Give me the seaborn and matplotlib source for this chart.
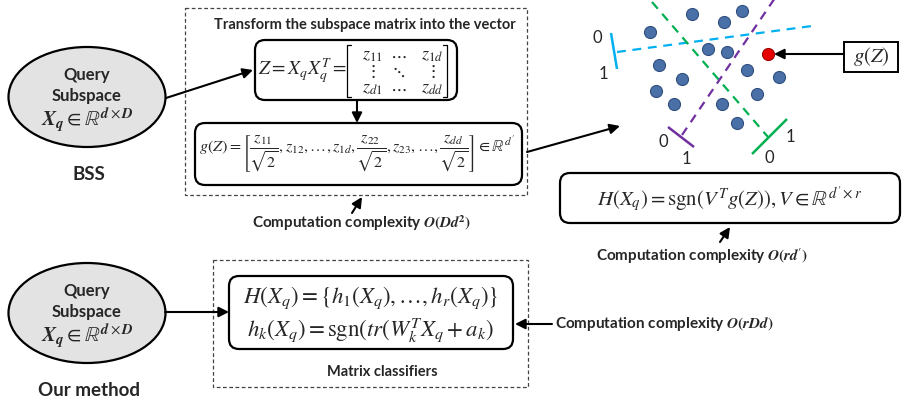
import matplotlib
matplotlib.use("Agg")
import matplotlib.pyplot as plt
import seaborn as sns
import pandas as pd
from matplotlib.patches import Ellipse, FancyBboxPatch, Rectangle

# -----------------------------------------------------------------------------
# DATA (pixel space of the 906x403 diagram)
# -----------------------------------------------------------------------------
dot_x = [692, 742, 724, 650, 708, 727, 659, 747, 779, 682, 656, 757, 674, 722, 737]
dot_y = [14, 11, 22, 32, 49, 52, 65, 70, 77, 79, 91, 94, 104, 104, 123]
query_x = [768]
query_y = [54]

# hyperplanes: dashed separator, solid normal tick, side labels
plane_names = ["cyan", "green", "purple"]
plane_colors = ["#00B0F0", "#00B050", "#7030A0"]
plane_dash_x = [(617, 812), (652, 768), (777, 682)]
plane_dash_y = [(52, 26), (2, 137), (-5, 135)]
plane_tick_x = [(611, 617), (752, 787), (668, 694)]
plane_tick_y = [(33, 69), (154, 119), (127, 147)]
plane_lab0 = [(597, 38), (769, 158), (663, 142)]
plane_lab1 = [(603, 74), (790, 137), (686, 159)]

TEXT_FONT = ["Lato", "DejaVu Sans"]

sns.set_theme(style="white")
plt.rcParams["font.family"] = TEXT_FONT
plt.rcParams["mathtext.fontset"] = "stix"

fig = plt.figure(figsize=(9.06, 4.03), dpi=100)
ax = fig.add_axes([0, 0, 1, 1])
ax.set_xlim(0, 906)
ax.set_ylim(403, 0)
ax.axis("off")

LW = 1.6


def arrow(x0, y0, x1, y1, lw=1.5):
    ax.annotate("", xy=(x1, y1), xytext=(x0, y0),
                arrowprops=dict(arrowstyle="-|>,head_length=0.5,head_width=0.25",
                                color="black", lw=lw, shrinkA=0, shrinkB=0))


def rbox(x0, y0, x1, y1, r=10):
    ax.add_patch(FancyBboxPatch((x0, y0), x1 - x0, y1 - y0,
                                boxstyle=f"round,pad=0,rounding_size={r}",
                                fc="white", ec="black", lw=LW))


def dbox(x0, y0, x1, y1):
    ax.add_patch(Rectangle((x0, y0), x1 - x0, y1 - y0, fill=False,
                           ec="#444444", lw=0.9, ls=(0, (3, 2))))


def query_ellipse(cx, cy, label):
    ax.add_patch(Ellipse((cx, cy), 157, 100, fc="#E3E3E3", ec="black", lw=LW))
    ax.text(cx, cy - 22, "Query", ha="center", va="center", fontsize=12, fontweight="bold")
    ax.text(cx, cy - 1, "Subspace", ha="center", va="center", fontsize=12, fontweight="bold")
    ax.text(cx, cy + 23, r"$\mathbfit{X}_{\mathbfit{q}}\in\mathbb{R}^{\mathbfit{d}\times\mathbfit{D}}$",
            ha="center", va="center", fontsize=15)
    ax.text(cx + 2, cy + 78, label, ha="center", va="center", fontsize=13.5, fontweight="bold")


# ---------------- top row: BSS ----------------
query_ellipse(87, 97, "BSS")
dbox(185, 8, 527, 195)
ax.text(365, 25, "Transform the subspace matrix into the vector", ha="center", va="center",
        fontsize=10.5, fontweight="bold")

rbox(255, 40, 457, 100)
ax.text(258, 71, r"$Z=X_qX_q^T=$", ha="left", va="center", fontsize=14)
# matrix entries
mat_cols = [372, 398, 432]
mat_rows = [56, 72, 89]
mat_cells = [[r"$z_{11}$", r"$\cdots$", r"$z_{1d}$"],
             [r"$\vdots$", r"$\ddots$", r"$\vdots$"],
             [r"$z_{d1}$", r"$\cdots$", r"$z_{dd}$"]]
for i, row in enumerate(mat_cells):
    for j, cell in enumerate(row):
        ax.text(mat_cols[j], mat_rows[i], cell, ha="center", va="center", fontsize=13)
ax.plot([351, 347, 347, 351], [45, 45, 97, 97], color="black", lw=0.9)
ax.plot([443, 447, 447, 443], [45, 45, 97, 97], color="black", lw=0.9)

arrow(357, 100, 357, 123)

rbox(195, 123, 522, 185)
ax.text(357, 154,
        r"$g(Z)=\left[\dfrac{z_{11}}{\sqrt{2}},z_{12},\ldots,z_{1d},\dfrac{z_{22}}{\sqrt{2}},"
        r"z_{23},\ldots,\dfrac{z_{dd}}{\sqrt{2}}\right]\in\mathbb{R}^{d^{\prime}}$",
        ha="center", va="center", fontsize=11.6)

arrow(352, 213, 362, 197)
ax.text(362, 223, r"Computation complexity $\mathbfit{O}\mathbf{(}\mathbfit{Dd}^{\mathbf{2}}\mathbf{)}$",
        ha="center", va="center", fontsize=11, fontweight="bold")

arrow(166, 98, 253, 70)
arrow(527, 152, 620, 126)

# ---------------- scatter of hashed points ----------------
for k in range(len(plane_names)):
    c = plane_colors[k]
    ax.plot(plane_dash_x[k], plane_dash_y[k], color=c, lw=1.6, ls=(0, (4, 3)))
    ax.plot(plane_tick_x[k], plane_tick_y[k], color=c, lw=1.8, solid_capstyle="butt")
    ax.text(*plane_lab0[k], "0", ha="center", va="center", fontsize=12)
    ax.text(*plane_lab1[k], "1", ha="center", va="center", fontsize=12)

dots = pd.DataFrame({"x": dot_x, "y": dot_y})
sns.scatterplot(data=dots, x="x", y="y", ax=ax, s=75, color="#4A70A8",
                edgecolor="#2F4F7F", linewidth=0.8, zorder=5)
qd = pd.DataFrame({"x": query_x, "y": query_y})
sns.scatterplot(data=qd, x="x", y="y", ax=ax, s=75, color="#E60000",
                edgecolor="#A00000", linewidth=0.8, zorder=5)
ax.set_xlim(0, 906)
ax.set_ylim(403, 0)
ax.axis("off")

ax.add_patch(Rectangle((844, 42), 54, 30, fill=False, ec="black", lw=1.4))
ax.text(871, 57, r"$g(Z)$", ha="center", va="center", fontsize=15)
arrow(844, 54, 774, 54)

rbox(560, 173, 900, 223)
ax.text(730, 199, r"$H\left(X_q\right)=\mathrm{sgn}(V^Tg(Z)),V\in\mathbb{R}^{d^{\prime}\times r}$",
        ha="center", va="center", fontsize=15)
arrow(720, 242, 730, 227)
ax.text(702, 256, r"Computation complexity $\mathbfit{O}\mathbf{(}\mathbfit{rd}^{\mathbf{\prime}}\mathbf{)}$",
        ha="center", va="center", fontsize=11, fontweight="bold")

# ---------------- bottom row: our method ----------------
query_ellipse(87, 313, "Our method")
dbox(213, 260, 528, 387)
rbox(229, 276, 513, 349)
ax.text(371, 298, r"$H(X_q)=\{h_1\left(X_q\right),\ldots,h_r\left(X_q\right)\}$",
        ha="center", va="center", fontsize=16.5)
ax.text(371, 331, r"$h_k\left(X_q\right)=\mathrm{sgn}(tr(W_k^TX_q+a_k)$",
        ha="center", va="center", fontsize=16.5)
ax.text(382, 372, "Matrix classifiers", ha="center", va="center", fontsize=10.5, fontweight="bold")
arrow(165, 312, 229, 312)
arrow(552, 324, 515, 324)
ax.text(555, 324, r"Computation complexity $\mathbfit{O}\mathbf{(}\mathbfit{rDd}\mathbf{)}$",
        ha="left", va="center", fontsize=11, fontweight="bold")

fig.savefig("out.png", dpi=100)
